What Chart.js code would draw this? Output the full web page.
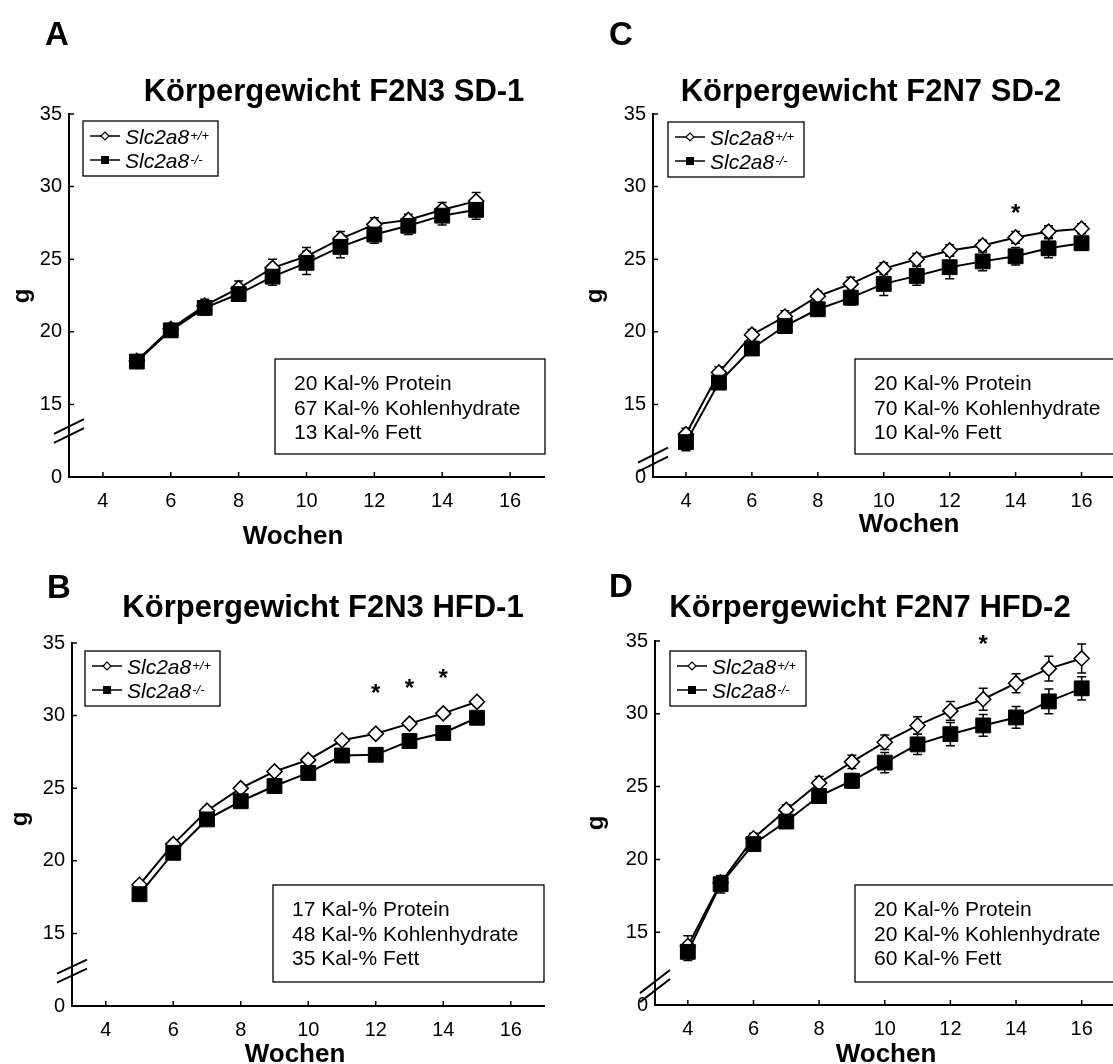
<!DOCTYPE html>
<html>
<head>
<meta charset="utf-8">
<script src="https://cdn.jsdelivr.net/npm/chart.js@4.4.1/dist/chart.umd.min.js"></script>
<style>
  html, body { margin: 0; padding: 0; background: #fff; width: 1113px; height: 1064px; overflow: hidden; }
  canvas { position: absolute; }
</style>
</head>
<body>
<canvas id="cA"></canvas>
<canvas id="cC"></canvas>
<canvas id="cB"></canvas>
<canvas id="cD"></canvas>
<script>
// ---- data (g body weight per week) ----
const xTicks = [4, 6, 8, 10, 12, 14, 16];
const yTicks = [10, 15, 20, 25, 30, 35]; // 10 is shown as "0" (broken axis)

// A: F2N3 SD-1
const weeksA = [5, 6, 7, 8, 9, 10, 11, 12, 13, 14, 15];
const wtA    = [18.0, 20.2, 21.8, 23.0, 24.4, 25.2, 26.4, 27.4, 27.7, 28.4, 29.0];
const koA    = [17.95, 20.1, 21.65, 22.6, 23.8, 24.75, 25.85, 26.7, 27.3, 28.0, 28.4];
const errWtA = [0.3, 0.3, 0.45, 0.5, 0.6, 0.6, 0.5, 0.45, 0.4, 0.5, 0.6];
const errKoA = [0.3, 0.3, 0.5, 0.5, 0.6, 0.8, 0.75, 0.6, 0.6, 0.65, 0.65];

// C: F2N7 SD-2
const weeksC = [4, 5, 6, 7, 8, 9, 10, 11, 12, 13, 14, 15, 16];
const wtC    = [12.95, 17.2, 19.8, 21.05, 22.45, 23.3, 24.35, 25.0, 25.6, 25.95, 26.5, 26.9, 27.1];
const koC    = [12.4, 16.5, 18.85, 20.4, 21.55, 22.35, 23.3, 23.85, 24.45, 24.85, 25.2, 25.75, 26.1];
const errWtC = [0.4, 0.4, 0.35, 0.4, 0.35, 0.45, 0.4, 0.4, 0.4, 0.35, 0.4, 0.4, 0.35];
const errKoC = [0.6, 0.45, 0.45, 0.5, 0.45, 0.5, 0.8, 0.65, 0.8, 0.65, 0.6, 0.65, 0.4];

// B: F2N3 HFD-1
const weeksB = [5, 6, 7, 8, 9, 10, 11, 12, 13, 14, 15];
const wtB    = [18.35, 21.15, 23.45, 25.0, 26.15, 26.95, 28.3, 28.75, 29.45, 30.15, 30.95];
const koB    = [17.7, 20.55, 22.85, 24.1, 25.15, 26.05, 27.25, 27.3, 28.25, 28.8, 29.85];
const errWtB = [0.25, 0.25, 0.25, 0.25, 0.25, 0.25, 0.25, 0.25, 0.25, 0.25, 0.25];
const errKoB = [0.25, 0.25, 0.25, 0.25, 0.25, 0.25, 0.25, 0.25, 0.25, 0.25, 0.25];

// D: F2N7 HFD-2
const weeksD = [4, 5, 6, 7, 8, 9, 10, 11, 12, 13, 14, 15, 16];
const wtD    = [14.05, 18.4, 21.45, 23.4, 25.25, 26.7, 28.05, 29.2, 30.2, 31.0, 32.1, 33.1, 33.8];
const koD    = [13.65, 18.3, 21.05, 22.6, 24.35, 25.4, 26.65, 27.9, 28.6, 29.2, 29.75, 30.85, 31.75];
const errWtD = [0.7, 0.3, 0.35, 0.35, 0.45, 0.45, 0.5, 0.6, 0.65, 0.75, 0.65, 0.85, 1.0];
const errKoD = [0.6, 0.6, 0.4, 0.4, 0.35, 0.5, 0.7, 0.7, 0.8, 0.75, 0.75, 0.85, 0.8];

// significance stars (week, g)
const starWeeksA = [];           const starYA = [];
const starWeeksC = [14];         const starYC = [28.6];
const starWeeksB = [12, 13, 14]; const starYB = [31.95, 32.3, 33.0];
const starWeeksD = [13];         const starYD = [35.2];

const dietA = ["20 Kal-% Protein", "67 Kal-% Kohlenhydrate", "13 Kal-% Fett"];
const dietC = ["20 Kal-% Protein", "70 Kal-% Kohlenhydrate", "10 Kal-% Fett"];
const dietB = ["17 Kal-% Protein", "48 Kal-% Kohlenhydrate", "35 Kal-% Fett"];
const dietD = ["20 Kal-% Protein", "20 Kal-% Kohlenhydrate", "60 Kal-% Fett"];

const FONT = '"Liberation Sans", Arial, Helvetica, sans-serif';

// ---- decorations: error bars, inner ticks, axis break, boxes, texts ----
function decoPlugin(p) {
  const sx = (v) => v - p.ox;
  const sy = (v) => v - p.oy;
  return {
    id: "deco",
    beforeDatasetsDraw(chart) {
      const ctx = chart.ctx, ys = chart.scales.y;
      ctx.save();
      ctx.strokeStyle = "#000";
      ctx.lineWidth = 1.5;
      [p.errKo, p.errWt].forEach((errs, di) => {
        const ds = chart.data.datasets[di];
        chart.getDatasetMeta(di).data.forEach((pt, i) => {
          const v = ds.data[i].y, e = errs[i];
          const y1 = ys.getPixelForValue(v + e), y2 = ys.getPixelForValue(v - e);
          ctx.beginPath();
          ctx.moveTo(pt.x, y1); ctx.lineTo(pt.x, y2);
          ctx.moveTo(pt.x - 4.5, y1); ctx.lineTo(pt.x + 4.5, y1);
          ctx.moveTo(pt.x - 4.5, y2); ctx.lineTo(pt.x + 4.5, y2);
          ctx.stroke();
        });
      });
      ctx.restore();
    },
    afterDraw(chart) {
      const ctx = chart.ctx, a = chart.chartArea;
      const xs = chart.scales.x, ys = chart.scales.y;
      ctx.save();
      ctx.strokeStyle = "#000";
      ctx.fillStyle = "#000";

      // inner tick marks
      ctx.lineWidth = 1.5;
      ctx.beginPath();
      xTicks.forEach((v) => {
        const px = xs.getPixelForValue(v);
        ctx.moveTo(px, a.bottom); ctx.lineTo(px, a.bottom - 5);
      });
      yTicks.forEach((v) => {
        const py = ys.getPixelForValue(v);
        ctx.moveTo(a.left, py); ctx.lineTo(a.left + 5, py);
      });
      ctx.stroke();

      // axis break
      const by = ys.getPixelForValue(p.brk);
      ctx.lineWidth = 2;
      ctx.beginPath();
      [-4.5, 4.5].forEach((off) => {
        ctx.moveTo(a.left - 15, by + off + 15 * p.slope);
        ctx.lineTo(a.left + 15, by + off - 15 * p.slope);
      });
      ctx.stroke();

      // stars
      ctx.font = "bold 24px " + FONT;
      ctx.textAlign = "center";
      ctx.textBaseline = "alphabetic";
      p.starWeeks.forEach((w, i) => {
        ctx.fillText("*", xs.getPixelForValue(w), ys.getPixelForValue(p.starY[i]) + 14);
      });

      // legend box
      const L = p.legend;
      ctx.lineWidth = 1.3;
      ctx.strokeRect(sx(L[0]), sy(L[1]), L[2], L[3]);
      const rows = [["+/+", false], ["-/-", true]];
      rows.forEach(([sup, filled], r) => {
        const cy = sy(L[1]) + 15 + r * 24;
        const lx = sx(L[0]) + 7;
        ctx.lineWidth = 1.5;
        ctx.beginPath(); ctx.moveTo(lx, cy); ctx.lineTo(lx + 30, cy); ctx.stroke();
        const mx = lx + 15;
        ctx.beginPath();
        if (filled) {
          ctx.rect(mx - 4, cy - 4, 8, 8); ctx.fill();
        } else {
          ctx.moveTo(mx - 4, cy); ctx.lineTo(mx, cy - 4); ctx.lineTo(mx + 4, cy); ctx.lineTo(mx, cy + 4); ctx.closePath();
          ctx.fillStyle = "#fff"; ctx.fill(); ctx.fillStyle = "#000";
          ctx.lineWidth = 1.2; ctx.stroke();
        }
        ctx.textAlign = "left";
        ctx.font = "italic 21px " + FONT;
        const tx = lx + 35, base = cy + 7.5;
        ctx.fillText("Slc2a8", tx, base);
        const w = ctx.measureText("Slc2a8").width;
        ctx.font = "italic 13px " + FONT;
        ctx.fillText(sup, tx + w + 1, base - 4);
      });

      // diet box
      const D = p.dietBox;
      ctx.lineWidth = 1.3;
      ctx.strokeRect(sx(D[0]), sy(D[1]), D[2], D[3]);
      ctx.font = "21px " + FONT;
      ctx.textAlign = "left";
      p.diet.forEach((t, i) => ctx.fillText(t, sx(D[0]) + 19, sy(D[1]) + 31 + i * 24.5));

      // titles
      ctx.font = "bold 31px " + FONT;
      ctx.textAlign = "center";
      ctx.fillText(p.title, sx(p.titlePos[0]), sy(p.titlePos[1]));
      ctx.font = "bold 33px " + FONT;
      ctx.textAlign = "left";
      ctx.fillText(p.letter, sx(p.letterPos[0]), sy(p.letterPos[1]));
      ctx.font = "bold 26px " + FONT;
      ctx.textAlign = "center";
      ctx.fillText("Wochen", sx(p.xTitlePos[0]), sy(p.xTitlePos[1]));
      ctx.save();
      ctx.translate(sx(p.yTitlePos[0]), sy(p.yTitlePos[1]));
      ctx.rotate(-Math.PI / 2);
      ctx.font = "bold 24px " + FONT;
      ctx.textBaseline = "middle";
      ctx.fillText("g", 0, 0);
      ctx.restore();

      ctx.restore();
    },
  };
}

function makePanel(id, p, weeks, wt, ko) {
  const cv = document.getElementById(id);
  cv.width = p.w; cv.height = p.h;
  cv.style.left = p.ox + "px"; cv.style.top = p.oy + "px";
  cv.style.width = p.w + "px"; cv.style.height = p.h + "px";

  const AX_W = 40, AX_H = 40;
  const tickFont = { family: FONT, size: 20 };

  return new Chart(cv, {
    type: "line",
    data: {
      datasets: [
        {
          label: "Slc2a8-/-",
          data: weeks.map((w, i) => ({ x: w, y: ko[i] })),
          borderColor: "#000", borderWidth: 2,
          pointStyle: "rect", pointRadius: 10.5,
          pointBackgroundColor: "#000", pointBorderColor: "#000", pointBorderWidth: 1,
          tension: 0, order: 0,
        },
        {
          label: "Slc2a8+/+",
          data: weeks.map((w, i) => ({ x: w, y: wt[i] })),
          borderColor: "#000", borderWidth: 2,
          pointStyle: "rectRot", pointRadius: 7.5,
          pointBackgroundColor: "#fff", pointBorderColor: "#000", pointBorderWidth: 1.6,
          tension: 0, order: 1,
        },
      ],
    },
    options: {
      responsive: false,
      animation: false,
      events: [],
      layout: {
        padding: {
          left: p.area[0] - p.ox - AX_W,
          top: p.area[2] - p.oy,
          right: p.ox + p.w - p.area[1],
          bottom: p.oy + p.h - p.area[3] - AX_H,
        },
      },
      plugins: { legend: { display: false }, tooltip: { enabled: false }, title: { display: false } },
      scales: {
        x: {
          type: "linear", min: 3, max: 17,
          afterBuildTicks: (s) => { s.ticks = xTicks.map((v) => ({ value: v })); },
          afterFit: (s) => { s.height = AX_H; },
          grid: { display: false, drawTicks: false },
          border: { color: "#000", width: 2 },
          ticks: { font: tickFont, color: "#000", padding: 12, maxRotation: 0, autoSkip: false },
        },
        y: {
          type: "linear", min: 10, max: 35,
          afterBuildTicks: (s) => { s.ticks = yTicks.map((v) => ({ value: v })); },
          afterFit: (s) => { s.width = AX_W; },
          grid: { display: false, drawTicks: false },
          border: { color: "#000", width: 2 },
          ticks: { font: tickFont, color: "#000", padding: 7, callback: (v) => (v === 10 ? "0" : v) },
        },
      },
    },
    plugins: [decoPlugin(p)],
  });
}

makePanel("cA", {
  ox: 0, oy: 0, w: 556, h: 555, area: [69, 544, 114, 477],
  errWt: errWtA, errKo: errKoA, starWeeks: starWeeksA, starY: starYA, diet: dietA,
  brk: 13.17, slope: 0.49,
  title: "Körpergewicht F2N3 SD-1", titlePos: [334, 101], letter: "A", letterPos: [45, 45],
  xTitlePos: [293, 544], yTitlePos: [22, 296],
  legend: [83, 121, 135, 55], dietBox: [275, 359, 270, 95],
}, weeksA, wtA, koA);

makePanel("cC", {
  ox: 556, oy: 0, w: 570, h: 555, area: [653, 1118, 114, 477],
  errWt: errWtC, errKo: errKoC, starWeeks: starWeeksC, starY: starYC, diet: dietC,
  brk: 11.2, slope: 0.5,
  title: "Körpergewicht F2N7 SD-2", titlePos: [871, 101], letter: "C", letterPos: [609, 45],
  xTitlePos: [909, 532], yTitlePos: [595, 296],
  legend: [668, 122, 136, 55], dietBox: [855, 359, 300, 95],
}, weeksC, wtC, koC);

makePanel("cB", {
  ox: 0, oy: 555, w: 556, h: 509, area: [72, 545, 643, 1006],
  errWt: errWtB, errKo: errKoB, starWeeks: starWeeksB, starY: starYB, diet: dietB,
  brk: 12.4, slope: 0.47,
  title: "Körpergewicht F2N3 HFD-1", titlePos: [323, 617], letter: "B", letterPos: [47, 598],
  xTitlePos: [295, 1062], yTitlePos: [20, 819],
  legend: [85, 651, 135, 55], dietBox: [273, 885, 271, 97],
}, weeksB, wtB, koB);

makePanel("cD", {
  ox: 556, oy: 555, w: 570, h: 509, area: [655, 1121, 641, 1005],
  errWt: errWtD, errKo: errKoD, starWeeks: starWeeksD, starY: starYD, diet: dietD,
  brk: 11.3, slope: 0.77,
  title: "Körpergewicht F2N7 HFD-2", titlePos: [870, 617], letter: "D", letterPos: [609, 597],
  xTitlePos: [886, 1062], yTitlePos: [596, 823],
  legend: [670, 651, 136, 55], dietBox: [855, 885, 300, 97],
}, weeksD, wtD, koD);
</script>
</body>
</html>
